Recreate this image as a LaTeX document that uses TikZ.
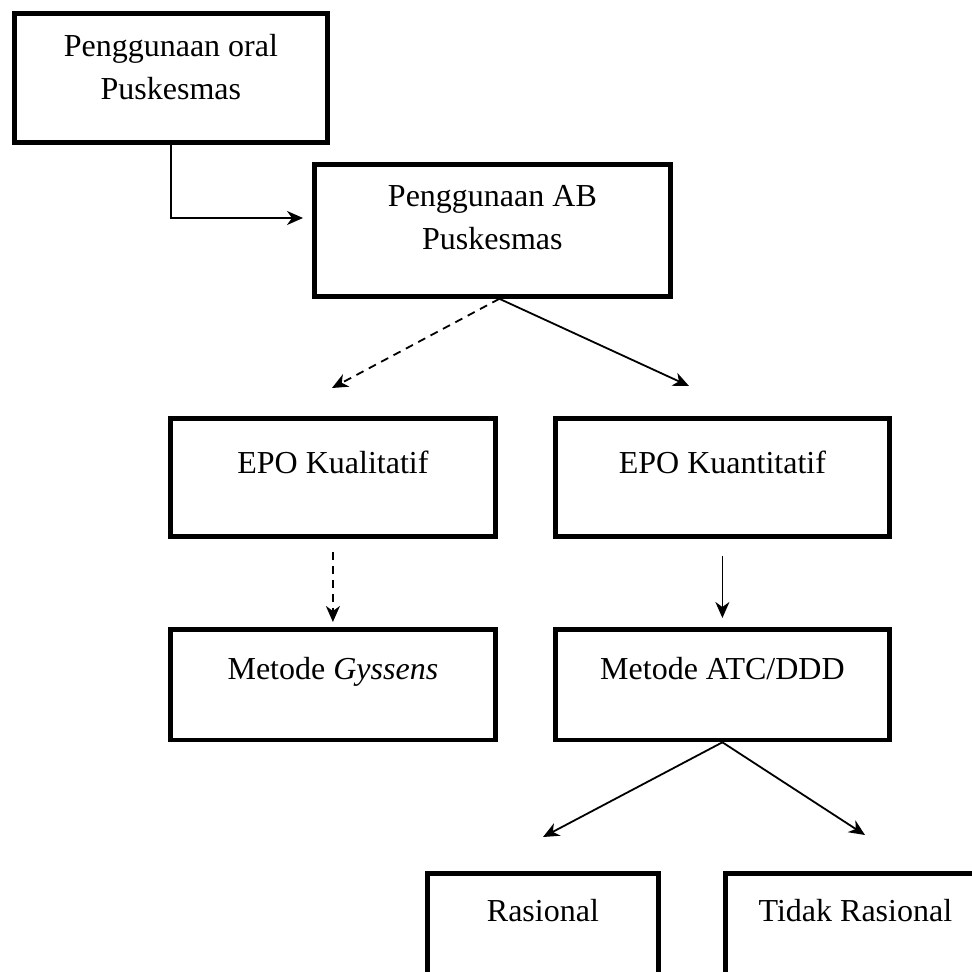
\documentclass[tikz,border=0pt]{standalone}
\usepackage{fontspec}
\setmainfont{Liberation Serif}
\usetikzlibrary{arrows.meta}
\tikzset{
        kotak/.style={draw, line width=2.4pt, anchor=north west, inner xsep=0pt, inner ysep=0pt, align=center, font=\fontsize{16}{21.5}\selectfont},
        panah/.style={line width=0.9pt, -{Stealth[length=8pt,width=7pt,inset=2.5pt]}},
        putus/.style={panah, dash pattern=on 4pt off 3pt}
}
\begin{document}
\begin{tikzpicture}[x=0.5pt,y=-0.5pt]
        \clip (0,0) rectangle (972,972);
        \node[kotak,minimum width=156.5pt,text height=43pt,text depth=21.5pt] (oral) at (12,11) {Penggunaan oral\\Puskesmas};
        \node[kotak,minimum width=178pt,text height=42.5pt,text depth=23.5pt] (ab) at (312,162) {Penggunaan AB\\Puskesmas};
        \node[kotak,minimum width=162.5pt,text height=27.5pt,text depth=31.5pt] (kual) at (168,416) {EPO Kualitatif};
        \node[kotak,minimum width=167pt,text height=27.5pt,text depth=31.5pt] (kuan) at (553,416) {EPO Kuantitatif};
        \node[kotak,minimum width=162.5pt,text height=25pt,text depth=30.25pt] (gys) at (168,627) {Metode \textit{Gyssens}};
        \node[kotak,minimum width=167pt,text height=25pt,text depth=30.25pt] (atc) at (553,627) {Metode ATC/DDD};
        \node[kotak,minimum width=115.5pt,text height=24pt,text depth=40.5pt] (ras) at (425,871) {Rasional};
        \node[kotak,minimum width=130pt,text height=24pt,text depth=40.5pt] (tdk) at (723,871) {Tidak Rasional};

        \coordinate (t1) at (303,218);
        \coordinate (t2) at (332,388);
        \coordinate (t3) at (689,386);
        \coordinate (t6) at (543,837);
        \coordinate (t7) at (865,835);

        \draw[panah] (oral.south) |- (t1);
        \draw[putus] ([xshift=3.5pt]ab.south) -- (t2);
        \draw[panah] ([xshift=3.5pt]ab.south) -- (t3);
        \draw[putus,shorten <=6.5pt,shorten >=2.5pt] (kual.south) -- (gys.north);
        \draw[panah,shorten <=8.5pt,shorten >=4.5pt] (kuan.south) -- (atc.north);
        \draw[panah] (atc.south) -- (t6);
        \draw[panah] (atc.south) -- (t7);
\end{tikzpicture}
\end{document}
